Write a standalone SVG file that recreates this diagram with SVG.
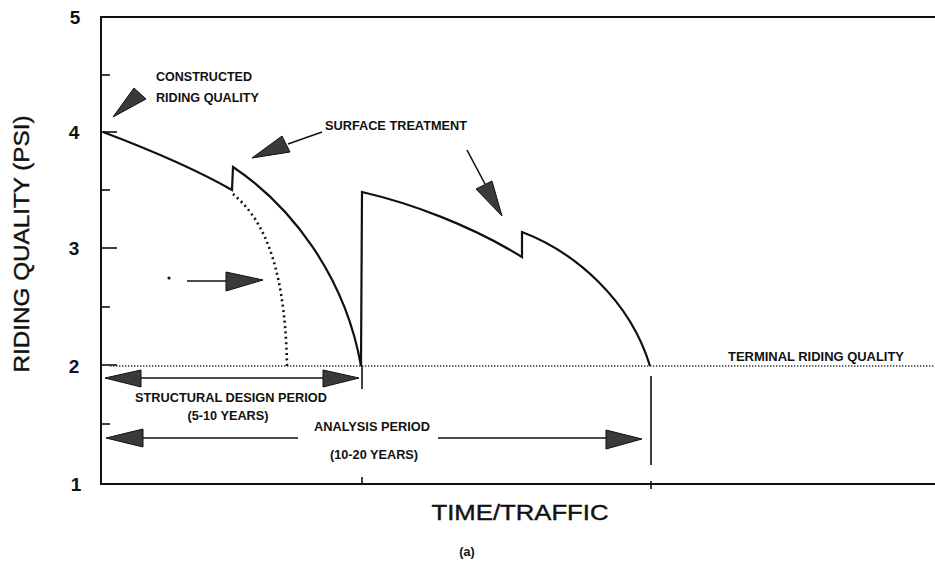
<svg xmlns="http://www.w3.org/2000/svg" width="935" height="563" viewBox="0 0 935 563">
  <style>
    .axis { stroke: #111; stroke-width: 2; fill: none; }
    .tick { stroke: #111; stroke-width: 1.6; }
    .curve { stroke: #111; stroke-width: 2.2; fill: none; stroke-linejoin: miter; }
    .dotted { stroke: #111; stroke-width: 2.6; fill: none; stroke-dasharray: 2 3.4; }
    .terminal { stroke: #333; stroke-width: 1.4; fill: none; stroke-dasharray: 1.4 1.6; }
    .shaft { stroke: #111; stroke-width: 1.6; fill: none; }
    .head { fill: #3a3a3a; stroke: #111; stroke-width: 1; stroke-linejoin: round; }
    .num { font-family: "Liberation Sans", Arial, sans-serif; font-weight: bold; font-size: 19px; fill: #111; text-anchor: middle; }
    .title { font-family: "Liberation Sans", Arial, sans-serif; font-size: 22px; fill: #111; stroke: #111; stroke-width: 0.4; text-anchor: middle; }
    .lbl { font-family: "Liberation Sans", Arial, sans-serif; font-weight: bold; font-size: 12.5px; fill: #111; }
  </style>
  <rect width="935" height="563" fill="#ffffff"/>

  <!-- axes and scale -->
  <g id="axes">
    <path class="axis" d="M935,17 H101 V484 H935"/>
    <line class="tick" x1="101" y1="75" x2="110" y2="75"/>
    <line class="tick" x1="101" y1="132" x2="117" y2="132"/>
    <line class="tick" x1="101" y1="190" x2="110" y2="190"/>
    <line class="tick" x1="101" y1="248" x2="117" y2="248"/>
    <line class="tick" x1="101" y1="307" x2="110" y2="307"/>
    <line class="tick" x1="101" y1="365" x2="117" y2="365"/>
    <line class="tick" x1="101" y1="424" x2="110" y2="424"/>
    <line class="tick" x1="362" y1="477" x2="362" y2="484"/>
    <line class="tick" x1="651" y1="481" x2="651" y2="489"/>
    <text class="num" x="75" y="24">5</text>
    <text class="num" x="74" y="139">4</text>
    <text class="num" x="74" y="255">3</text>
    <text class="num" x="74" y="373">2</text>
    <text class="num" x="76" y="491">1</text>
    <text class="title" transform="translate(29,244) rotate(-90)" textLength="257" lengthAdjust="spacingAndGlyphs">RIDING QUALITY (PSI)</text>
    <text class="title" x="520" y="520" textLength="177" lengthAdjust="spacingAndGlyphs">TIME/TRAFFIC</text>
    <text class="lbl" x="467" y="556" text-anchor="middle" font-size="11">(a)</text>
  </g>

  <!-- terminal riding quality level -->
  <g id="terminal-level">
    <line class="terminal" x1="110" y1="366" x2="935" y2="366"/>
    <text class="lbl" x="728" y="361" textLength="176" lengthAdjust="spacingAndGlyphs">TERMINAL RIDING QUALITY</text>
  </g>

  <!-- performance curves -->
  <g id="performance-curve">
    <path class="curve" d="M103,132 C140,146 190,166 232,190 L233,167 C290,205 345,275 361,366 L362,192 C410,203 470,225 522,257 L522,232 C575,252 630,300 650,366"/>
  </g>
  <g id="untreated-curve">
    <path class="dotted" d="M233,194 C258,215 285,255 287,366"/>
  </g>

  <!-- labels with pointers -->
  <g id="constructed-label">
    <text class="lbl" x="156" y="81" textLength="96" lengthAdjust="spacingAndGlyphs">CONSTRUCTED</text>
    <text class="lbl" x="156" y="102" textLength="103" lengthAdjust="spacingAndGlyphs">RIDING QUALITY</text>
  </g>
  <g id="surface-label">
    <text class="lbl" x="325" y="130" textLength="142" lengthAdjust="spacingAndGlyphs">SURFACE TREATMENT</text>
  </g>
  <g id="structural-label">
    <text class="lbl" x="231" y="402" text-anchor="middle" textLength="192" lengthAdjust="spacingAndGlyphs">STRUCTURAL DESIGN PERIOD</text>
    <text class="lbl" x="228" y="420" text-anchor="middle" textLength="81" lengthAdjust="spacingAndGlyphs">(5-10 YEARS)</text>
  </g>
  <g id="analysis-label">
    <text class="lbl" x="372" y="431" text-anchor="middle" textLength="116" lengthAdjust="spacingAndGlyphs">ANALYSIS PERIOD</text>
    <text class="lbl" x="374" y="459" text-anchor="middle" textLength="88" lengthAdjust="spacingAndGlyphs">(10-20 YEARS)</text>
  </g>

  <!-- pointers and period spans -->
  <g id="connectors">
    <!-- constructed riding quality pointer -->
    <polygon class="head" points="113,117 134,88 146,99"/>
    <!-- surface treatment pointers -->
    <line class="shaft" x1="322" y1="132" x2="288" y2="144"/>
    <polygon class="head" points="252,158 282,136 290,152"/>
    <line class="shaft" x1="467" y1="150" x2="485" y2="184"/>
    <polygon class="head" points="502,216 476,189 492,181"/>
    <!-- pointer to untreated curve -->
    <circle cx="169" cy="278" r="1.6" fill="#111"/>
    <line class="shaft" x1="187" y1="281" x2="227" y2="281"/>
    <polygon class="head" points="263,280 226,272 226,291"/>
    <!-- structural design period span -->
    <line class="shaft" x1="140" y1="378" x2="324" y2="378"/>
    <polygon class="head" points="105,378 141,370 141,387"/>
    <polygon class="head" points="359,378 323,370 323,387"/>
    <line class="shaft" x1="362" y1="366" x2="362" y2="389"/>
    <!-- analysis period span -->
    <line class="shaft" x1="142" y1="438" x2="298" y2="438"/>
    <line class="shaft" x1="438" y1="438" x2="607" y2="438"/>
    <polygon class="head" points="106,438 143,429 143,447"/>
    <polygon class="head" points="642,439 606,430 606,449"/>
    <line class="shaft" x1="651" y1="376" x2="651" y2="465"/>
  </g>
</svg>
